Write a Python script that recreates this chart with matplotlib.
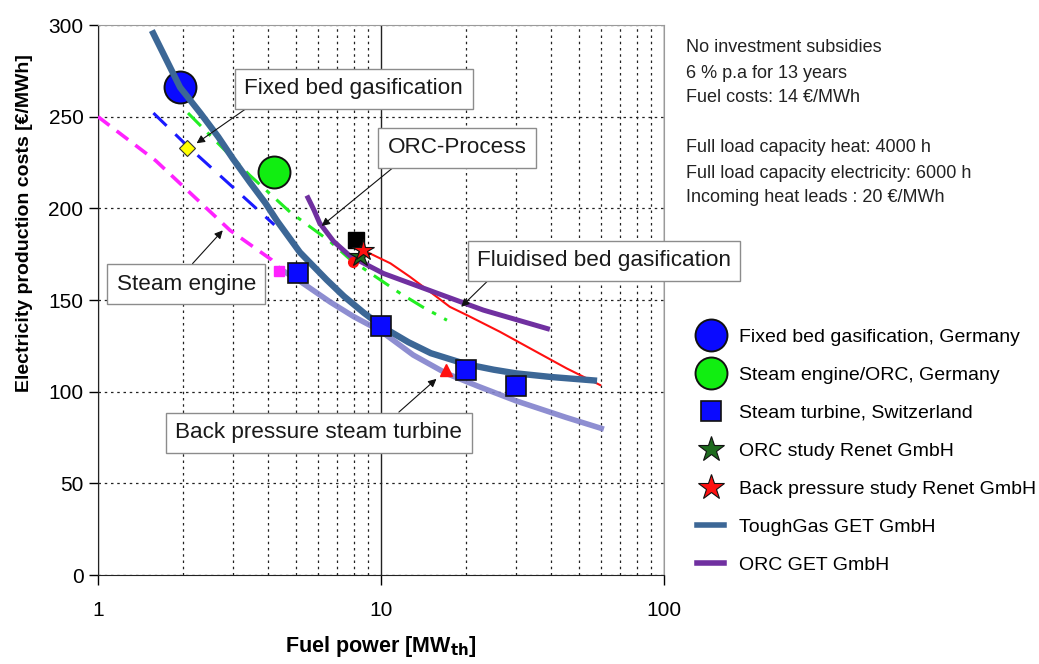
import matplotlib.pyplot as plt
from matplotlib.lines import Line2D
from matplotlib.ticker import LogLocator, NullFormatter, FixedLocator

plt.rcParams["font.family"] = ["Liberation Sans", "DejaVu Sans"]

# fitted cost curves (fuel power MW_th, cost EUR/MWh)
toughgas_x = [1.55, 1.95, 2.3, 2.66, 3.0, 3.45, 3.9, 4.3, 5.17, 6.43, 7.4, 8.7, 10.2, 12.5, 15.0, 20.0, 25.0, 30.0, 40.0, 58.0]
toughgas_y = [297, 266, 252, 239, 227, 214, 203, 193, 176, 161, 152, 143, 135, 127, 121, 115, 112, 110, 108, 106]

orc_get_x = [5.47, 5.8, 6.07, 6.8, 7.77, 10.2, 15.3, 23.0, 39.5]
orc_get_y = [207, 199, 192, 182, 174, 164.5, 154.5, 144.5, 134]

back_pressure_x = [4.5, 5.2, 6.6, 8.0, 10.0, 13.0, 17.0, 22.0, 30.0, 45.0, 60.0]
back_pressure_y = [166, 160, 149, 141, 133, 120, 110, 103, 95, 86, 80]

fluidised_x = [8.7, 10.8, 12.65, 14.9, 17.5, 20.1, 26.3, 34.5, 45.3, 59.5]
fluidised_y = [177, 170, 162.7, 154.5, 146.3, 141.8, 132.7, 122.7, 112.7, 103.6]

orc_process_x = [2.08, 3.44, 4.77, 6.6, 7.8, 11.6, 14.1, 17.1]
orc_process_y = [252, 218, 198, 182, 172, 154, 146, 139]

fixed_bed_x = [1.57, 2.07, 4.2]
fixed_bed_y = [252, 234, 191]

steam_engine_x = [1.0, 1.6, 2.93, 4.1, 4.4]
steam_engine_y = [250, 226, 188, 172, 167]

# reference plants and studies
fb_germany_x, fb_germany_y = [1.95], [266]
se_germany_x, se_germany_y = [4.2], [220]
st_swiss_x = [5.1, 10.0, 20.0, 30.0]
st_swiss_y = [165, 136, 112, 103]
orc_study_x, orc_study_y = [8.4], [174]
bp_study_x, bp_study_y = [8.65], [177.5]

fixed_bed_pt = (2.07, 233)
steam_engine_pt = (4.35, 166)
orc_pt = (8.15, 183)
fluid_pt = (7.97, 171)
bp_pt = (17.0, 112)

notes = [
    "No investment subsidies",
    "6 % p.a for 13 years",
    "Fuel costs: 14 \u20ac/MWh",
    "",
    "Full load capacity heat: 4000 h",
    "Full load capacity electricity: 6000 h",
    "Incoming heat leads : 20 \u20ac/MWh",
]

fig = plt.figure(figsize=(10.39, 6.64), dpi=100)
ax = fig.add_axes([0.0943, 0.134, 0.5448, 0.8283])

ax.set_xscale("log")
ax.set_xlim(1, 100)
ax.set_ylim(0, 300)

# grid: dotted minor verticals, solid line at 10, dotted horizontals
ax.xaxis.set_major_locator(FixedLocator([1, 10, 100]))
ax.xaxis.set_minor_locator(LogLocator(base=10, subs=range(2, 10)))
ax.xaxis.set_minor_formatter(NullFormatter())
ax.set_xticklabels(["1", "10", "100"])
ax.set_yticks(range(0, 301, 50))
ax.grid(which="major", axis="x", color="#222222", lw=1.0, ls="-")
ax.grid(which="minor", axis="x", color="#222222", lw=0.9, ls=(0, (2, 3)))
ax.grid(which="major", axis="y", color="#222222", lw=0.9, ls=(0, (2, 3)))
ax.set_axisbelow(True)

ax.tick_params(axis="y", which="major", direction="out", length=6.5, width=1, labelsize=15, pad=4)
ax.tick_params(axis="x", which="major", direction="out", length=7, width=1, labelsize=15, pad=12)
ax.tick_params(axis="x", which="minor", length=0)
for side in ("top", "right"):
    ax.spines[side].set_color("#9a9a9a")
for side in ("left", "bottom"):
    ax.spines[side].set_color("#222222")

# curves
ax.plot(steam_engine_x, steam_engine_y, color="#ff22ff", lw=2.6, ls=(0, (4, 2.5)), zorder=3)
ax.plot(fixed_bed_x, fixed_bed_y, color="#1a1aff", lw=2.2, ls=(0, (6, 4)), zorder=3)
ax.plot(orc_process_x, orc_process_y, color="#22ee22", lw=2.2, ls=(0, (6, 3, 1.5, 3)), zorder=3)
ax.plot(back_pressure_x, back_pressure_y, color="#8282cc", lw=4, alpha=0.9, zorder=3)
ax.plot(fluidised_x, fluidised_y, color="#ff1010", lw=1.5, zorder=3)
ax.plot(orc_get_x, orc_get_y, color="#7030a0", lw=3.6, zorder=4, solid_capstyle="butt")
ax.plot(toughgas_x, toughgas_y, color="#3c6796", lw=4.6, zorder=4, solid_capstyle="butt")

# small markers on the curves
ax.plot(*fixed_bed_pt, marker="D", ms=8, mfc="#ffff00", mec="#333333", mew=0.8, zorder=6)
ax.plot(*steam_engine_pt, marker="s", ms=7.5, mfc="#ff22ff", mec="#ff22ff", zorder=5)
ax.plot(*orc_pt, marker="s", ms=11, mfc="black", mec="black", zorder=5)
ax.plot(*fluid_pt, marker="o", ms=7, mfc="#ff1010", mec="#ff1010", zorder=5)
ax.plot(*bp_pt, marker="^", ms=8, mfc="#ff1010", mec="#ff1010", zorder=5)

# plant data
h_fb, = ax.plot(fb_germany_x, fb_germany_y, ls="none", marker="o", ms=23,
                mfc="#0a0aff", mec="#111111", mew=1.4, zorder=3.5)
h_se, = ax.plot(se_germany_x, se_germany_y, ls="none", marker="o", ms=23,
                mfc="#11ee11", mec="#111111", mew=1.4, zorder=5)
h_st, = ax.plot(st_swiss_x, st_swiss_y, ls="none", marker="s", ms=14,
                mfc="#0a0aff", mec="#111111", mew=1.2, zorder=6)
h_orc, = ax.plot(orc_study_x, orc_study_y, ls="none", marker="*", ms=16,
                 mfc="#1e6b1e", mec="#111111", mew=0.8, zorder=6)
h_bp, = ax.plot(bp_study_x, bp_study_y, ls="none", marker="*", ms=16,
                mfc="#ff1010", mec="#111111", mew=0.8, zorder=7)

# callout boxes
box = dict(boxstyle="square,pad=0.42", fc="white", ec="#8c8c8c", lw=1)
arrow = dict(arrowstyle="-|>", color="#111111", lw=0.8, mutation_scale=12, shrinkA=0, shrinkB=0)
callouts = [
    ("Fixed bed gasification", (0.452, 0.8845), (2.23, 235.5), (0.07, 0.0)),
    ("ORC-Process", (0.635, 0.777), (6.17, 190.4), (0.12, 0.0)),
    ("Fluidised bed gasification", (0.894, 0.571), (19.2, 146.3), (0.08, 0.0)),
    ("Steam engine", (0.156, 0.529), (2.76, 188), (0.48, 1.0)),
    ("Back pressure steam turbine", (0.390, 0.259), (15.7, 107), (0.74, 1.0)),
]
for label, txt_pos, target, rel in callouts:
    ax.annotate(label, xy=target, xycoords="data", xytext=txt_pos, textcoords="axes fraction",
                ha="center", va="center", fontsize=16.2, color="#1a1a1a", bbox=box,
                arrowprops=dict(arrow, relpos=rel), zorder=8, annotation_clip=False)

ax.set_ylabel("Electricity production costs [\u20ac/MWh]", fontsize=14, fontweight="bold")
ax.yaxis.set_label_coords(-0.115, 0.64)
ax.set_xlabel("Fuel power [MW$_{\\mathbf{th}}$]", fontsize=15.5, fontweight="bold", labelpad=10)

for i, line in enumerate(notes):
    if line:
        fig.text(0.660, 1 - (48 + 25 * i) / 664, line, fontsize=13, color="#222222", va="center")

legend_handles = [
    h_fb, h_se, h_st,
    Line2D([], [], ls="none", marker="*", ms=19, mfc="#1e6b1e", mec="#111111", mew=0.8),
    Line2D([], [], ls="none", marker="*", ms=19, mfc="#ff1010", mec="#111111", mew=0.8),
    Line2D([], [], color="#3c6796", lw=4),
    Line2D([], [], color="#7030a0", lw=4),
]
legend_labels = [
    "Fixed bed gasification, Germany",
    "Steam engine/ORC, Germany",
    "Steam turbine, Switzerland",
    "ORC study Renet GmbH",
    "Back pressure study Renet GmbH",
    "ToughGas GET GmbH",
    "ORC GET GmbH",
]
fig.legend(legend_handles, legend_labels, loc="upper left", bbox_to_anchor=(0.671, 1 - 328 / 664),
           frameon=False, fontsize=14, labelspacing=1.05, handlelength=1.4, handletextpad=0.75,
           borderpad=0, borderaxespad=0)

fig.savefig("out.png", dpi=100)
